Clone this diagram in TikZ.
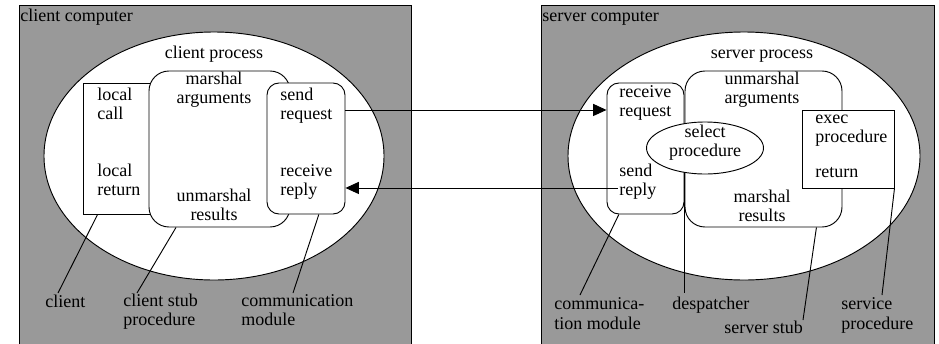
\documentclass[tikz,border=0pt]{standalone}
\usepackage{fontspec}
\setmainfont{Liberation Serif}
\usetikzlibrary{shapes,arrows.meta,positioning,fit}
\definecolor{compgray}{RGB}{153,153,153}
\tikzstyle{computer} = [rectangle, draw, fill=compgray, inner sep=0pt]
\tikzstyle{process} = [ellipse, draw, fill=white, inner sep=0pt]
\tikzstyle{stub} = [rectangle, draw, fill=white, rounded corners=15pt, inner sep=0pt]
\tikzstyle{module} = [rectangle, draw, fill=white, rounded corners=9pt, inner sep=0pt]
\tikzstyle{routine} = [rectangle, draw, fill=white, inner sep=0pt]
\tikzstyle{txt} = [inner sep=0pt, align=left, anchor=base west]
\tikzstyle{ctxt} = [inner sep=0pt, align=center, anchor=base]
\tikzstyle{line} = [draw, -{Triangle[length=10pt,width=9pt]}]
\tikzstyle{pointer} = [draw]
\tikzstyle{every node}=[font=\fontsize{13.5pt}{13.8pt}\selectfont]

\begin{document}
\begin{tikzpicture}[x=0.75pt, y=-0.75pt, line width=0.7pt]
    \useasboundingbox (0,0) rectangle (939,343);
    \clip (0,0) rectangle (939,343);

    % Place nodes
    % client side
    \node [computer, fit={(19,5) (411,350)}] (clientpc) {};
    \node [txt] (clientpc-title) at (20,21) {client computer};
    \node [process, minimum width=255pt, minimum height=186pt] (clientproc) at (214,156) {};
    \node [ctxt] (clientproc-title) at (214,58) {client process};
    \node [routine, fit={(83,83) (150,214)}] (client) {};
    \node [stub, fit={(149,71) (290,227)}] (clientstub) {};
    \node [module, fit={(267,83) (345,214)}] (clientcomm) {};
    \node [txt] (call) at (97,119) {local\\call};
    \node [txt] (return) at (97,195) {local\\return};
    \node [ctxt] (marshal) at (214,103) {marshal\\arguments};
    \node [ctxt] (unmarshal) at (214,220) {unmarshal\\results};
    \node [txt] (send) at (280,119) {send\\request};
    \node [txt] (receive) at (280,195) {receive\\reply};

    % server side
    \node [computer, fit={(541,5) (934,350)}] (serverpc) {};
    \node [txt] (serverpc-title) at (542,21) {server computer};
    \node [process, minimum width=264pt, minimum height=186pt] (serverproc) at (744,156) {};
    \node [ctxt] (serverproc-title) at (762,58) {server process};
    \node [module, fit={(607,83) (684,214)}] (servercomm) {};
    \node [stub, fit={(685,71) (842,227)}] (serverstub) {};
    \node [routine, fit={(802,110) (894,188)}] (service) {};
    \node [process, minimum width=87.75pt, minimum height=39pt] (despatcher) at (705,148) {};
    \node [ctxt] (select) at (705,156) {select\\procedure};
    \node [txt] (srv-receive) at (619,116) {receive\\request};
    \node [txt] (srv-send) at (619,195) {send\\reply};
    \node [ctxt] (srv-unmarshal) at (762,103) {unmarshal\\arguments};
    \node [ctxt] (srv-marshal) at (762,221) {marshal\\results};
    \node [txt] (exec) at (815,142) {exec\\procedure};
    \node [txt] (exec-return) at (815,177) {return};

    % labels
    \node [txt] (client-lbl) at (45,307) {client};
    \node [txt] (clientstub-lbl) at (123,325) {client stub\\procedure};
    \node [txt] (clientcomm-lbl) at (241,325) {communication\\module};
    \node [txt] (servercomm-lbl) at (554,329) {communica-\\[1pt]tion module};
    \node [txt] (despatcher-lbl) at (672,309) {despatcher};
    \node [txt] (serverstub-lbl) at (724,333) {server stub};
    \node [txt] (service-lbl) at (841,329) {service\\[1pt]procedure};
    \coordinate (client-end) at (58,293);
    \coordinate (clientstub-end) at (137,293);
    \coordinate (clientcomm-end) at (293,293);
    \coordinate (servercomm-end) at (580,295);
    \coordinate (despatcher-end) at (685,293);
    \coordinate (serverstub-end) at (803,320);
    \coordinate (service-end) at (882,295);

    % Draw edges
    \path [line] ([yshift=28.9pt]clientcomm.east) -- ([yshift=28.9pt]servercomm.west);
    \path [line] ([xshift=8.3pt,yshift=-29.6pt]servercomm.west) -- ([yshift=-29.6pt]clientcomm.east);
    \path [pointer] (client.-106) -- (client-end);
    \path [pointer] (clientstub.-119) -- (clientstub-end);
    \path [pointer] (clientcomm.-79) -- (clientcomm-end);
    \path [pointer] (servercomm.-112) -- (servercomm-end);
    \path [pointer] (despatcher.-129) -- (despatcher.-129 |- despatcher-end);
    \path [pointer] (serverstub.-56.6) -- (serverstub-end);
    \path [pointer] (service.south east) -- (service-end);

\end{tikzpicture}
\end{document}
